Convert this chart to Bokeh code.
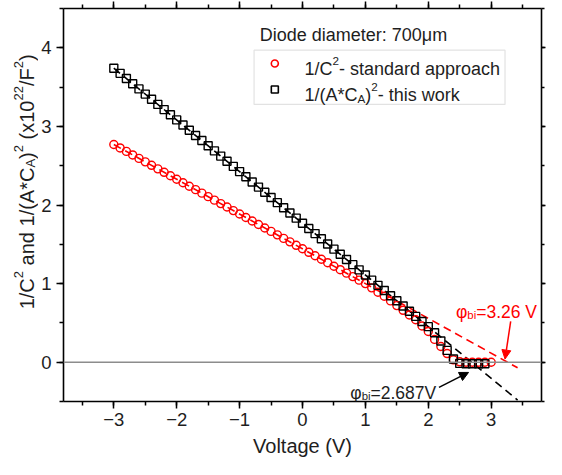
import math
from bokeh.plotting import figure
from bokeh.layouts import row
from bokeh.models import (Range1d, LinearAxis, SingleIntervalTicker, CustomJSTickFormatter,
                          Span, Label, Arrow, NormalHead, BoxAnnotation)
from bokeh.embed import file_html
from bokeh.resources import INLINE

# ---------------- data ----------------
volt_red = [-3.0, -2.9, -2.8, -2.7, -2.6, -2.5, -2.4, -2.3, -2.2, -2.1,
            -2.0, -1.9, -1.8, -1.7, -1.6, -1.5, -1.4, -1.3, -1.2, -1.1,
            -1.0, -0.9, -0.8, -0.7, -0.6, -0.5, -0.4, -0.3, -0.2, -0.1,
            0.0, 0.1, 0.2, 0.3, 0.4, 0.5, 0.6, 0.7, 0.8, 0.9,
            1.0, 1.1, 1.2, 1.3, 1.4, 1.5, 1.6, 1.7, 1.8, 1.9,
            2.0, 2.1, 2.2, 2.3, 2.4, 2.5, 2.6, 2.7, 2.8, 2.9, 3.0]
inv_c2_std = [2.770, 2.726, 2.682, 2.637, 2.593, 2.549, 2.505, 2.460, 2.416, 2.372,
              2.328, 2.283, 2.239, 2.195, 2.151, 2.106, 2.062, 2.018, 1.974, 1.929,
              1.885, 1.841, 1.797, 1.752, 1.708, 1.664, 1.620, 1.575, 1.531, 1.487,
              1.443, 1.398, 1.354, 1.310, 1.266, 1.221, 1.177, 1.133, 1.089, 1.044,
              1.000, 0.946, 0.890, 0.840, 0.780, 0.720, 0.660, 0.600, 0.540, 0.460,
              0.390, 0.290, 0.200, 0.110, 0.030, 0.005, 0.000, 0.000, 0.000, 0.000, 0.000]

volt_black = [-3.0, -2.9, -2.8, -2.7, -2.6, -2.5, -2.4, -2.3, -2.2, -2.1,
              -2.0, -1.9, -1.8, -1.7, -1.6, -1.5, -1.4, -1.3, -1.2, -1.1,
              -1.0, -0.9, -0.8, -0.7, -0.6, -0.5, -0.4, -0.3, -0.2, -0.1,
              0.0, 0.1, 0.2, 0.3, 0.4, 0.5, 0.6, 0.7, 0.8, 0.9,
              1.0, 1.1, 1.2, 1.3, 1.4, 1.5, 1.6, 1.7, 1.8, 1.9,
              2.0, 2.1, 2.2, 2.3, 2.4, 2.5, 2.6, 2.7, 2.8, 2.9]
inv_ac2_this = [3.740, 3.675, 3.609, 3.543, 3.477, 3.411, 3.346, 3.280, 3.214, 3.148,
                3.083, 3.017, 2.951, 2.885, 2.820, 2.754, 2.688, 2.622, 2.556, 2.491,
                2.425, 2.359, 2.293, 2.228, 2.162, 2.096, 2.030, 1.965, 1.899, 1.833,
                1.767, 1.701, 1.636, 1.570, 1.504, 1.438, 1.373, 1.307, 1.241, 1.175,
                1.110, 1.044, 0.978, 0.912, 0.846, 0.781, 0.715, 0.649, 0.583, 0.518,
                0.452, 0.375, 0.270, 0.150, 0.040, -0.015, -0.020, -0.020, -0.020, -0.020]

# linear fits (extrapolated to the voltage axis)
fit_red_v = [-3.0, 3.42]
fit_red_y = [2.770, -0.071]
fit_black_v = [-3.0, 3.42]
fit_black_y = [3.740, -0.482]

FONT = "Liberation Sans"
RED = "#ff0000"
TXT = "#1e1e1e"

# ---------------- layout constants ----------------
H = 459
LABEL_W = 38          # narrow panel holding the rotated y label
MAIN_W = 546 - LABEL_W
TOP_B, BOT_B = 8, 52

X0, X1 = -3.8, 3.8
Y0, Y1 = -0.5, 4.5
p = figure(width=MAIN_W, height=H, output_backend="svg", toolbar_location=None,
           x_range=Range1d(X0, X1), y_range=Range1d(Y0, Y1),
           x_axis_location=None, y_axis_location=None,
           min_border_left=22, min_border_right=5, min_border_top=TOP_B,
           min_border_bottom=BOT_B)
p.grid.visible = False
p.outline_line_color = None


def style_axis(ax, show_labels, tick_out=7):
    ax.ticker = SingleIntervalTicker(interval=1, num_minor_ticks=2)
    ax.axis_line_width = 1.6
    ax.axis_line_color = "black"
    ax.major_tick_line_width = 1.5
    ax.minor_tick_line_width = 1.5
    ax.major_tick_in = 0
    ax.minor_tick_in = 0
    ax.major_tick_out = tick_out
    ax.minor_tick_out = max(3, tick_out - 3)
    if show_labels:
        ax.formatter = CustomJSTickFormatter(
            code="return tick < 0 ? '\u2212' + Math.abs(tick) : String(tick);")
        ax.major_label_text_font = FONT
        ax.major_label_text_font_size = "18.5px"
        ax.major_label_text_color = TXT
    else:
        ax.formatter = CustomJSTickFormatter(code="return '';")
        ax.major_label_text_font_size = "1px"
        ax.major_label_standoff = 0


xb = LinearAxis()
style_axis(xb, True)
xb.major_label_standoff = 4
xb.axis_label = "Voltage (V)"
xb.axis_label_text_font = FONT
xb.axis_label_text_font_style = "normal"
xb.axis_label_text_font_size = "20px"
xb.axis_label_text_color = TXT
xb.axis_label_standoff = 6
p.add_layout(xb, "below")

yl = LinearAxis()
style_axis(yl, True)
yl.major_label_standoff = 5
p.add_layout(yl, "left")

xt = LinearAxis()
style_axis(xt, False)
p.add_layout(xt, "above")

yr = LinearAxis()
style_axis(yr, False, tick_out=4)
p.add_layout(yr, "right")

# zero line
p.add_layout(Span(location=0, dimension="width", line_color="#8c8c8c", line_width=1.6))

# fits
p.line(fit_red_v, fit_red_y, line_color=RED, line_width=1.6, line_dash="8 5")
p.line(fit_black_v, fit_black_y, line_color="black", line_width=1.6, line_dash="8 5")

# data
p.scatter(volt_red, inv_c2_std, marker="circle", size=8, line_color=RED,
          line_width=1.4, fill_alpha=0)
p.scatter(volt_black, inv_ac2_this, marker="square", size=8, line_color="black",
          line_width=1.4, fill_alpha=0)

# ---------------- rich text helper ----------------
ARIAL = {' ': 278, '(': 333, ')': 333, '*': 389, '-': 333, '.': 278, '/': 278, ':': 278,
         '=': 584, 'A': 667, 'C': 722, 'D': 722, 'F': 611, 'V': 667, 'a': 556, 'b': 556,
         'c': 500, 'd': 556, 'e': 556, 'g': 556, 'h': 556, 'i': 222, 'k': 500, 'l': 222,
         'm': 833, 'n': 556, 'o': 556, 'p': 556, 'r': 333, 's': 500, 't': 278, 'w': 722,
         'x': 500, 'μ': 576, 'φ': 650}


def tw(s, size):
    return sum(ARIAL.get(c, 556) for c in s) / 1000.0 * size


def piece_style(kind, size):
    if kind == "sup":
        return size * 0.65, size * 0.42
    if kind == "sub":
        return size * 0.65, -size * 0.2
    return size, 0.0


def rich(fig, x, y, pieces, size, color, angle=0.0, x0=0.0, y0=0.0):
    adv = 0.0
    for txt, kind in pieces:
        fs, shift = piece_style(kind, size)
        stripped = txt.lstrip(" ")
        pos = adv + tw(txt[:len(txt) - len(stripped)], fs)
        if angle == 0:
            xo, yo = x0 + pos, y0 + shift
        else:
            xo, yo = x0 - shift, y0 + pos
        fig.add_layout(Label(x=x, y=y, x_offset=xo, y_offset=yo, text=stripped.rstrip(" "),
                             angle=angle, text_font=FONT, text_font_size=f"{fs:.1f}px",
                             text_color=color, text_align="left",
                             text_baseline="alphabetic"))
        adv += tw(txt, fs)
    return adv


# header text
p.add_layout(Label(x=-0.68, y=4.16, text="Diode diameter: 700μm", text_font=FONT,
                   text_font_size="18px", text_color=TXT, text_align="left",
                   text_baseline="alphabetic"))

# legend box
p.add_layout(BoxAnnotation(left=-0.77, right=3.22, top=3.97, bottom=3.28, level="underlay",
                           fill_color="white", fill_alpha=1.0,
                           line_color="#a0a0a0", line_width=1.2))
legend_marker_v = [-0.44, -0.44]
legend_marker_y = [3.80, 3.47]
p.scatter([legend_marker_v[0]], [legend_marker_y[0]], marker="circle", size=7,
          line_color=RED, line_width=1.6, fill_alpha=0)
p.scatter([legend_marker_v[1]], [legend_marker_y[1]], marker="square", size=7,
          line_color="black", line_width=1.6, fill_alpha=0)
rich(p, 0.03, 3.73, [("1/C", "n"), ("2", "sup"), ("- standard approach", "n")], 18, TXT)
rich(p, 0.03, 3.40, [("1/(A*C", "n"), ("A", "sub"), (")", "n"), ("2", "sup"),
                     ("- this work", "n")], 18, TXT)

# phi_bi annotations
rich(p, 2.44, 0.64, [("φ", "n"), ("bi", "sub"), ("=3.26 V", "n")], 17.5, RED)
rich(p, 0.76, -0.39, [("φ", "n"), ("bi", "sub"), ("=2.687V", "n")], 17.5, TXT)

p.add_layout(Arrow(x_start=3.31, y_start=0.52, x_end=3.22, y_end=0.04,
                   line_color=RED, line_width=1.5,
                   end=NormalHead(size=9, fill_color=RED, line_color=RED)))
p.add_layout(Arrow(x_start=2.17, y_start=-0.32, x_end=2.64, y_end=-0.13,
                   line_color="black", line_width=1.5,
                   end=NormalHead(size=9, fill_color="black", line_color="black")))

# ---------------- rotated y-axis label in its own panel ----------------
lab = figure(width=LABEL_W, height=H, output_backend="svg", toolbar_location=None,
             x_range=Range1d(0, LABEL_W), y_range=Range1d(0, H),
             x_axis_location=None, y_axis_location=None,
             min_border_left=0, min_border_right=0, min_border_top=0, min_border_bottom=0)
lab.grid.visible = False
lab.outline_line_color = None

ylab = [("1/C", "n"), ("2", "sup"), (" and 1/(A*C", "n"), ("A", "sub"), (")", "n"),
        ("2", "sup"), (" (x10", "n"), ("22", "sup"), ("/F", "n"), ("2", "sup"), (")", "n")]
YL_SIZE = 20.0
total = sum(tw(t, piece_style(k, YL_SIZE)[0]) for t, k in ylab)
frame_mid = H - (TOP_B + (H - TOP_B - 62) / 2.0)   # from bottom, in px
rich(lab, 26, frame_mid, ylab, YL_SIZE, TXT, angle=math.pi / 2, y0=-total / 2)

open("out.html", "w").write(file_html(row(lab, p), INLINE))
